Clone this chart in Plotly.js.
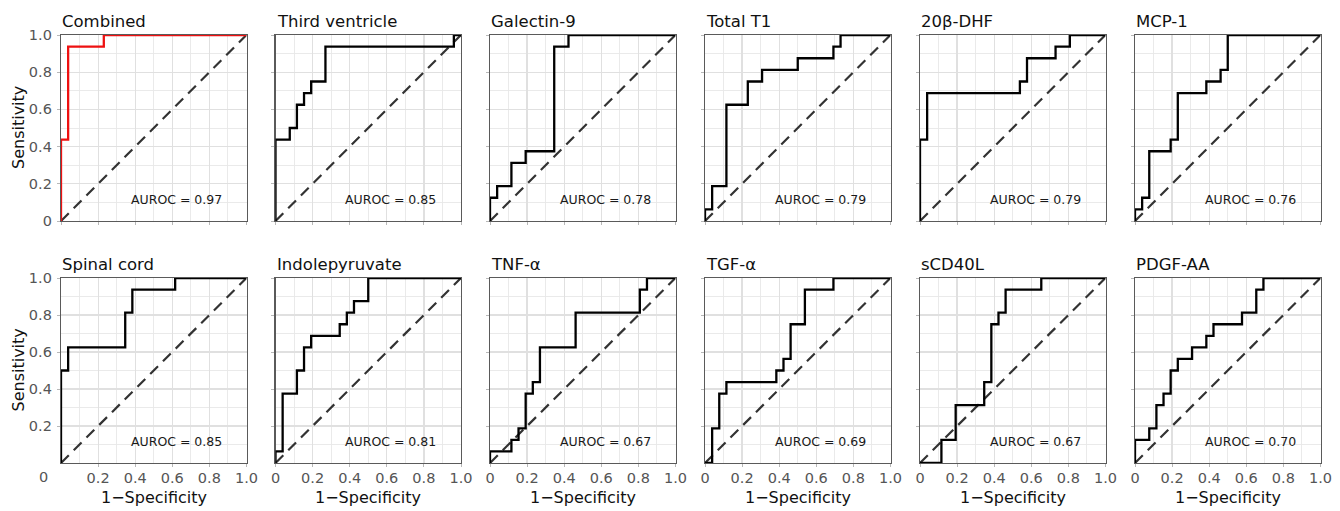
<!DOCTYPE html>
<html><head><meta charset="utf-8">
<script src="https://cdn.plot.ly/plotly-3.0.1.min.js"></script>
<style>html,body{margin:0;padding:0;background:#fff}#chart{width:1340px;height:511px}</style>
</head><body><div id="chart"></div>
<script>
// ---------- data ----------
const panelNames = ["Combined","Third ventricle","Galectin-9","Total T1","20β-DHF","MCP-1",
                    "Spinal cord","Indolepyruvate","TNF-α","TGF-α","sCD40L","PDGF-AA"];
const aurocValues = [0.97,0.85,0.78,0.79,0.79,0.76,0.85,0.81,0.67,0.69,0.67,0.70];

const combinedFpr = [0, 0, 0.0385, 0.2308, 1];
const combinedTpr = [0, 0.4375, 0.9375, 1, 1];
const thirdVentricleFpr = [0, 0, 0.0769, 0.1154, 0.1538, 0.1923, 0.2692, 0.9615, 1];
const thirdVentricleTpr = [0, 0.4375, 0.5, 0.625, 0.6875, 0.75, 0.9375, 1, 1];
const galectin9Fpr = [0, 0, 0.0385, 0.1154, 0.1923, 0.3462, 0.4231, 1];
const galectin9Tpr = [0, 0.125, 0.1875, 0.3125, 0.375, 0.9375, 1, 1];
const totalT1Fpr = [0, 0, 0.0385, 0.1154, 0.2308, 0.3077, 0.5, 0.6923, 0.7308, 1];
const totalT1Tpr = [0, 0.0625, 0.1875, 0.625, 0.75, 0.8125, 0.875, 0.9375, 1, 1];
const dhfFpr = [0, 0, 0.0385, 0.5385, 0.5769, 0.7308, 0.8077, 1];
const dhfTpr = [0, 0.4375, 0.6875, 0.75, 0.875, 0.9375, 1, 1];
const mcp1Fpr = [0, 0, 0.0385, 0.0769, 0.1923, 0.2308, 0.3846, 0.4615, 0.5, 1];
const mcp1Tpr = [0, 0.0625, 0.125, 0.375, 0.4375, 0.6875, 0.75, 0.8125, 1, 1];
const spinalCordFpr = [0, 0, 0.0385, 0.3462, 0.3846, 0.6154, 1];
const spinalCordTpr = [0, 0.5, 0.625, 0.8125, 0.9375, 1, 1];
const indolepyruvateFpr = [0, 0, 0.0385, 0.1154, 0.1538, 0.1923, 0.3462, 0.3846, 0.4231, 0.5, 1];
const indolepyruvateTpr = [0, 0.0625, 0.375, 0.5, 0.625, 0.6875, 0.75, 0.8125, 0.875, 1, 1];
const tnfFpr = [0, 0, 0.1154, 0.1538, 0.1923, 0.2308, 0.2692, 0.4615, 0.8077, 0.8462, 1];
const tnfTpr = [0, 0.0625, 0.125, 0.1875, 0.375, 0.4375, 0.625, 0.8125, 0.9375, 1, 1];
const tgfFpr = [0, 0.0385, 0.0769, 0.1154, 0.3846, 0.4231, 0.4615, 0.5385, 0.6923, 1];
const tgfTpr = [0, 0.1875, 0.375, 0.4375, 0.5, 0.5625, 0.75, 0.9375, 1, 1];
const sCD40LFpr = [0, 0.1154, 0.1923, 0.3462, 0.3846, 0.4231, 0.4615, 0.6538, 1];
const sCD40LTpr = [0, 0.125, 0.3125, 0.4375, 0.75, 0.8125, 0.9375, 1, 1];
const pdgfFpr = [0, 0, 0.0769, 0.1154, 0.1538, 0.1923, 0.2308, 0.3077, 0.3846, 0.4231, 0.5769, 0.6538, 0.6923, 1];
const pdgfTpr = [0, 0.125, 0.1875, 0.3125, 0.375, 0.5, 0.5625, 0.625, 0.6875, 0.75, 0.8125, 0.9375, 1, 1];

const chanceLine = [0, 1];
const tickValues = [0, 0.2, 0.4, 0.6, 0.8, 1.0];
const tickLabels = ["0", "0.2", "0.4", "0.6", "0.8", "1.0"];
const xAxisTitle = "1\u2212Specificity";
const yAxisTitle = "Sensitivity";

// ---------- build ----------
const curves = [
  [combinedFpr, combinedTpr], [thirdVentricleFpr, thirdVentricleTpr], [galectin9Fpr, galectin9Tpr],
  [totalT1Fpr, totalT1Tpr], [dhfFpr, dhfTpr], [mcp1Fpr, mcp1Tpr],
  [spinalCordFpr, spinalCordTpr], [indolepyruvateFpr, indolepyruvateTpr], [tnfFpr, tnfTpr],
  [tgfFpr, tgfTpr], [sCD40LFpr, sCD40LTpr], [pdgfFpr, pdgfTpr]
];

const W = 1340, H = 511;
const FONT = "DejaVu Sans";
const lefts = [61, 275.5, 490, 705, 920, 1135];
const pw = 185.5;
const rows = [[35, 221], [278, 463]];

const data = [], annotations = [];
const layout = {
  width: W, height: H, margin: {l: 0, r: 0, t: 0, b: 0},
  paper_bgcolor: "#fff", plot_bgcolor: "#fff", showlegend: false,
  font: {family: FONT}
};

curves.forEach((c, i) => {
  const r = Math.floor(i / 6), col = i % 6, n = i + 1;
  const sx = n === 1 ? "" : String(n);
  const xa = "x" + sx, ya = "y" + sx;
  const L = lefts[col], R = L + pw, T = rows[r][0], B = rows[r][1];
  const firstBottom = (r === 1 && col === 0);
  const common = {
    range: [0, 1], showline: true, mirror: true, linecolor: "#5a5a5a", linewidth: 1.2,
    showgrid: true, gridcolor: "#e0e0e0", gridwidth: 1.2, zeroline: false,
    minor: {tick0: 0, dtick: 0.1, showgrid: true, gridcolor: "#e8e8e8", gridwidth: 0.9},
    ticks: "outside", ticklen: 3, tickcolor: "#b8b8b8", tickwidth: 1,
    tickfont: {family: FONT, size: 14.5, color: "#555"},
    fixedrange: true, layer: "below traces"
  };
  const xTv = firstBottom ? tickValues.slice(1) : tickValues;
  const xTt = firstBottom ? tickLabels.slice(1) : tickLabels;
  const yTv = r === 1 ? tickValues.slice(1) : tickValues;
  const yTt = r === 1 ? tickLabels.slice(1) : tickLabels;
  layout["xaxis" + sx] = Object.assign({}, common, {
    domain: [L / W, R / W], anchor: ya, tickmode: "array", tickvals: xTv, ticktext: xTt,
    showticklabels: r === 1, ticklabelstandoff: -2
  });
  layout["yaxis" + sx] = Object.assign({}, common, {
    domain: [1 - B / H, 1 - T / H], anchor: xa, tickmode: "array", tickvals: yTv, ticktext: yTt,
    showticklabels: col === 0, ticklabelstandoff: 2
  });

  data.push({x: chanceLine, y: chanceLine, xaxis: xa, yaxis: ya, mode: "lines",
    line: {color: "#333", width: 2.2, dash: "11px,7px"}, hoverinfo: "skip", cliponaxis: false});
  data.push({x: c[0], y: c[1], xaxis: xa, yaxis: ya, mode: "lines",
    line: {color: i === 0 ? "#ee1111" : "#000", width: 2.3, shape: "hv"}, cliponaxis: false});

  annotations.push({xref: "paper", yref: "paper", x: L / W, y: 1 - T / H, xanchor: "left", yanchor: "bottom",
    yshift: 2, xshift: -1, text: panelNames[i], showarrow: false, font: {family: FONT, size: 16.5, color: "#111"}});
  annotations.push({xref: xa, yref: ya, x: 0.62, y: 0.118, xanchor: "center", yanchor: "middle",
    text: "AUROC = " + aurocValues[i].toFixed(2), showarrow: false, font: {family: FONT, size: 12.5, color: "#1a1a1a"}});
  if (col === 0) {
    annotations.push({xref: "paper", yref: "paper", x: 18 / W, y: 1 - (T + B) / 2 / H, xanchor: "center", yanchor: "middle",
      textangle: -90, text: yAxisTitle, showarrow: false, font: {family: FONT, size: 16, color: "#111"}});
  }
  if (r === 1) {
    annotations.push({xref: "paper", yref: "paper", x: (L + R) / 2 / W, y: 1 - 497 / H, xanchor: "center", yanchor: "middle",
      text: xAxisTitle, showarrow: false, font: {family: FONT, size: 16, color: "#111"}});
  }
  if (firstBottom) {
    annotations.push({xref: "paper", yref: "paper", x: 43.5 / W, y: 1 - 477 / H, xanchor: "center", yanchor: "middle",
      text: tickLabels[0], showarrow: false, font: {family: FONT, size: 14.5, color: "#555"}});
  }
});
layout.annotations = annotations;

Plotly.newPlot("chart", data, layout, {staticPlot: true, displayModeBar: false});
</script>
</body></html>
